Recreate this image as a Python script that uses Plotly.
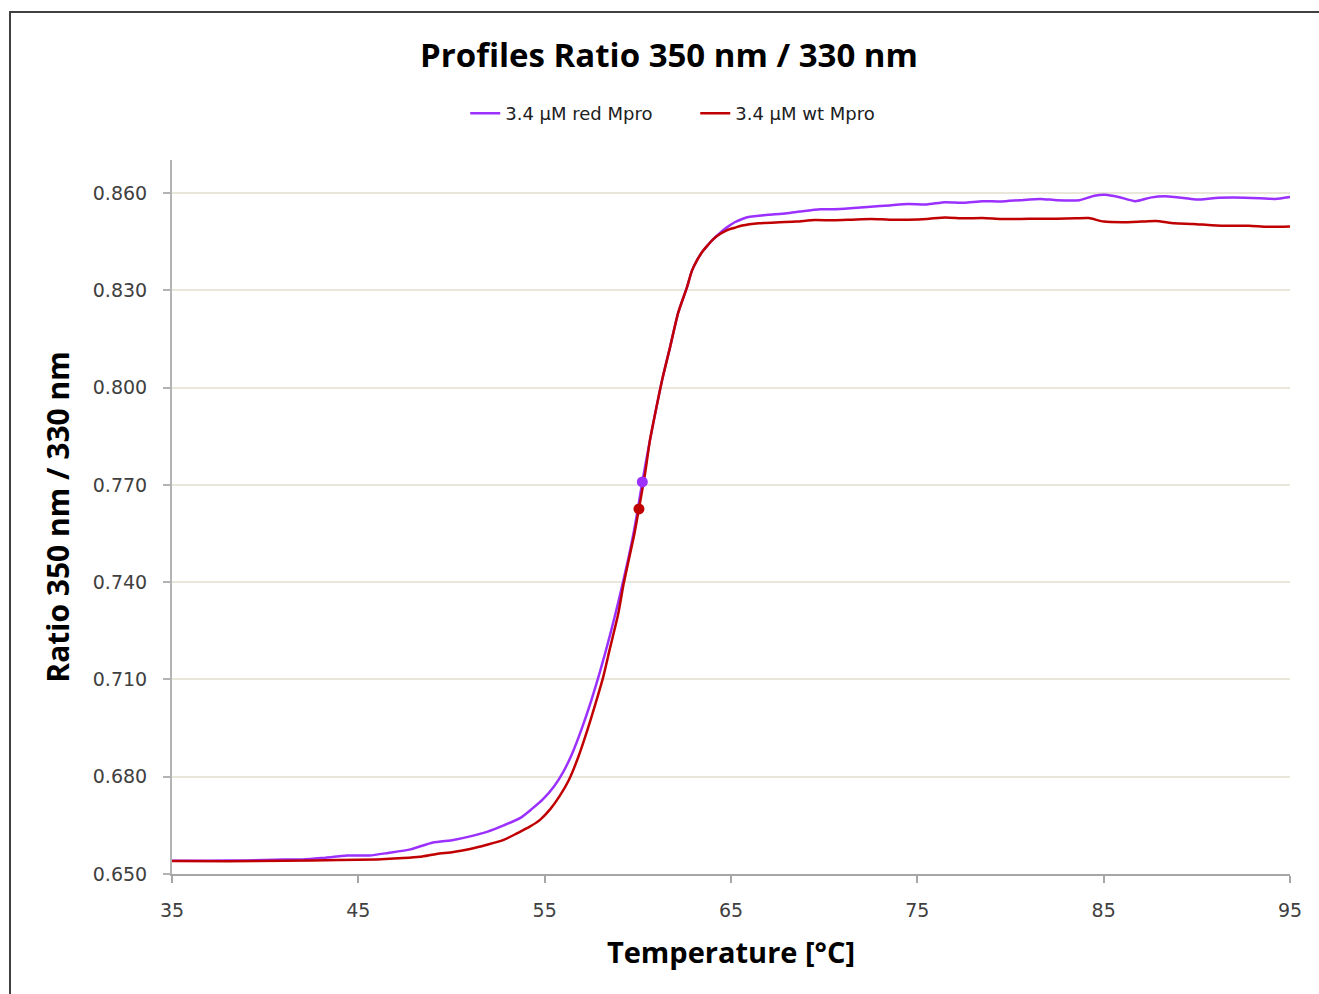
import plotly.graph_objects as go

# ---- data ----
red_T = [35.0, 37.0, 39.0, 41.0, 42.0, 43.0, 44.4, 45.6, 46.6, 47.8, 49.0, 50.1, 51.0, 51.9,
         52.8, 53.7, 54.3, 54.9, 55.5, 56.0, 56.5, 57.0, 57.5, 58.0, 58.5, 59.0, 59.5, 59.8,
         60.0, 60.24, 60.65, 61.0, 61.3, 61.73, 62.16, 62.64, 62.9, 63.18, 63.45,
         63.72, 64.05, 64.41, 64.8, 65.2, 65.6, 66.0, 66.5, 67.0, 68.0, 68.7, 69.8, 70.5, 71.4,
         72.5, 73.5, 74.5, 75.5, 76.5, 77.5, 78.5, 79.5, 80.5, 81.6, 82.5, 83.7, 84.5, 85.1,
         85.8, 86.7, 87.5, 88.3, 89.3, 90.0, 91.0, 92.0, 93.4, 94.2, 95.0]
red_v = [0.6541, 0.6541, 0.6542, 0.6545, 0.6545, 0.6549, 0.6557, 0.6557, 0.6565, 0.6576,
         0.6597, 0.6605, 0.6616, 0.6630, 0.6650, 0.6673, 0.6700, 0.6730, 0.6770, 0.6815,
         0.6875, 0.6950, 0.7035, 0.7130, 0.7235, 0.7350, 0.7475, 0.7560, 0.7625,
         0.7709, 0.7838, 0.7940, 0.8023, 0.8125, 0.8230, 0.8310, 0.8360, 0.8393,
         0.8418, 0.8437, 0.8458, 0.8477, 0.8495, 0.8510, 0.8520, 0.8527, 0.8530, 0.8533,
         0.8538, 0.8543, 0.8550, 0.8550, 0.8553, 0.8558, 0.8562, 0.8566, 0.8565, 0.8572,
         0.8570, 0.8575, 0.8574, 0.8578, 0.8582, 0.8578, 0.8578, 0.8592, 0.8595, 0.8588,
         0.8575, 0.8586, 0.8590, 0.8585, 0.8580, 0.8585, 0.8586, 0.8584, 0.8582, 0.8588]

wt_T = [35.0, 38.0, 41.0, 44.0, 46.0, 47.4, 48.3, 49.2, 50.1, 51.0, 51.9, 52.8, 53.5, 54.2,
        54.75, 55.3, 55.8, 56.3, 56.8, 57.3, 57.7, 58.13, 58.5, 58.94, 59.22, 59.5,
        59.8, 60.06, 60.4, 60.65, 61.0, 61.3, 61.73, 62.16, 62.64, 62.9, 63.18, 63.45, 63.72,
        64.05, 64.41, 64.8, 65.2, 65.6, 66.5, 67.6, 68.5, 69.5, 70.5, 71.5, 72.5, 73.5, 74.5,
        75.5, 76.5, 77.5, 78.5, 79.5, 80.5, 81.5, 82.5, 83.5, 84.2, 85.0, 86.0, 87.0, 87.8,
        88.8, 89.8, 90.8, 91.8, 92.8, 93.8, 95.0]
wt_v = [0.6540, 0.6539, 0.6541, 0.6543, 0.6545, 0.6549, 0.6553, 0.6562, 0.6568, 0.6577,
        0.6590, 0.6605, 0.6625, 0.6646, 0.6667, 0.6700, 0.6740, 0.6790, 0.6860, 0.6945,
        0.7020, 0.7105, 0.7195, 0.7300, 0.7390, 0.7465, 0.7545, 0.7626, 0.7740,
        0.7838, 0.7940, 0.8023, 0.8125, 0.8230, 0.8310, 0.8360, 0.8393, 0.8418, 0.8437,
        0.8458, 0.8474, 0.8486, 0.8493, 0.8500, 0.8507, 0.8510, 0.8512, 0.8517, 0.8516,
        0.8518, 0.8520, 0.8518, 0.8518, 0.8520, 0.8525, 0.8522, 0.8523, 0.8520, 0.8520,
        0.8521, 0.8521, 0.8522, 0.8523, 0.8512, 0.8510, 0.8512, 0.8514, 0.8507, 0.8505,
        0.8501, 0.8499, 0.8499, 0.8496, 0.8497]

# melting points (markers)
red_tm = [60.24]
red_tm_v = [0.7709]
wt_tm = [60.06]
wt_tm_v = [0.7626]

x_ticks = [35, 45, 55, 65, 75, 85, 95]
y_ticks = [0.650, 0.680, 0.710, 0.740, 0.770, 0.800, 0.830, 0.860]
y_tick_text = ["0.650", "0.680", "0.710", "0.740", "0.770", "0.800", "0.830", "0.860"]

PURPLE = "#9B30FF"
RED = "#C00000"

fig = go.Figure()
fig.add_trace(go.Scatter(x=red_T, y=red_v, mode="lines", name="3.4 µM red Mpro",
                         line=dict(color=PURPLE, width=2.5, shape="spline", smoothing=0.6)))
fig.add_trace(go.Scatter(x=wt_T, y=wt_v, mode="lines", name="3.4 µM wt Mpro",
                         line=dict(color=RED, width=2.5, shape="spline", smoothing=0.6)))
fig.add_trace(go.Scatter(x=red_tm, y=red_tm_v, mode="markers", showlegend=False,
                         marker=dict(color=PURPLE, size=11)))
fig.add_trace(go.Scatter(x=wt_tm, y=wt_tm_v, mode="markers", showlegend=False,
                         marker=dict(color=RED, size=11)))

fig.update_layout(
    width=1319, height=994,
    margin=dict(l=172, r=29, t=160, b=120),
    paper_bgcolor="white", plot_bgcolor="white",
    font=dict(family="DejaVu Sans", color="#404040"),
    showlegend=True,
    legend=dict(orientation="h", x=0.468, xanchor="center", y=1.065, yanchor="middle",
                font=dict(family="DejaVu Sans", size=18, color="#202020"),
                bgcolor="rgba(0,0,0,0)", itemwidth=30,
                entrywidth=185, entrywidthmode="pixels"),
    annotations=[
        dict(text="<b>Profiles Ratio 350 nm / 330 nm</b>", xref="paper", yref="paper",
             x=(669 - 172) / 1118, y=(874 - 54) / 714, xanchor="center", yanchor="middle",
             showarrow=False, font=dict(family="Open Sans", size=33, color="black")),
    ],
    shapes=[
        dict(type="rect", xref="paper", yref="paper",
             x0=(10 - 172) / 1118, x1=(1330 - 172) / 1118,
             y0=(874 - 1005) / 714, y1=(874 - 12) / 714,
             line=dict(color="#404040", width=2), fillcolor="rgba(0,0,0,0)", layer="below"),
    ],
)

fig.update_xaxes(
    range=[35, 95], tickvals=x_ticks, ticktext=[str(v) for v in x_ticks],
    showgrid=False, zeroline=False,
    showline=True, linecolor="#A6A6A6", linewidth=1.5,
    ticks="outside", ticklen=7, tickcolor="#A6A6A6", tickwidth=1.5,
    tickfont=dict(family="DejaVu Sans", size=19, color="#404040"),
    ticklabelstandoff=11,
    title=dict(text="<b>Temperature [°C]</b>", standoff=23,
               font=dict(family="Open Sans", size=29, color="black")),
)
fig.update_yaxes(
    range=[0.65, 0.8702], tickvals=y_ticks, ticktext=y_tick_text,
    showgrid=True, gridcolor="#E9E6DA", gridwidth=1.5, zeroline=False,
    showline=True, linecolor="#B3B3B3", linewidth=2,
    ticks="outside", ticklen=7, tickcolor="#B3B3B3", tickwidth=1.5,
    tickfont=dict(family="DejaVu Sans", size=19, color="#404040"),
    ticklabelstandoff=12,
    title=dict(text="<b>Ratio 350 nm / 330 nm</b>", standoff=14,
               font=dict(family="Open Sans", size=30, color="black")),
)

fig.write_html("out.html")
